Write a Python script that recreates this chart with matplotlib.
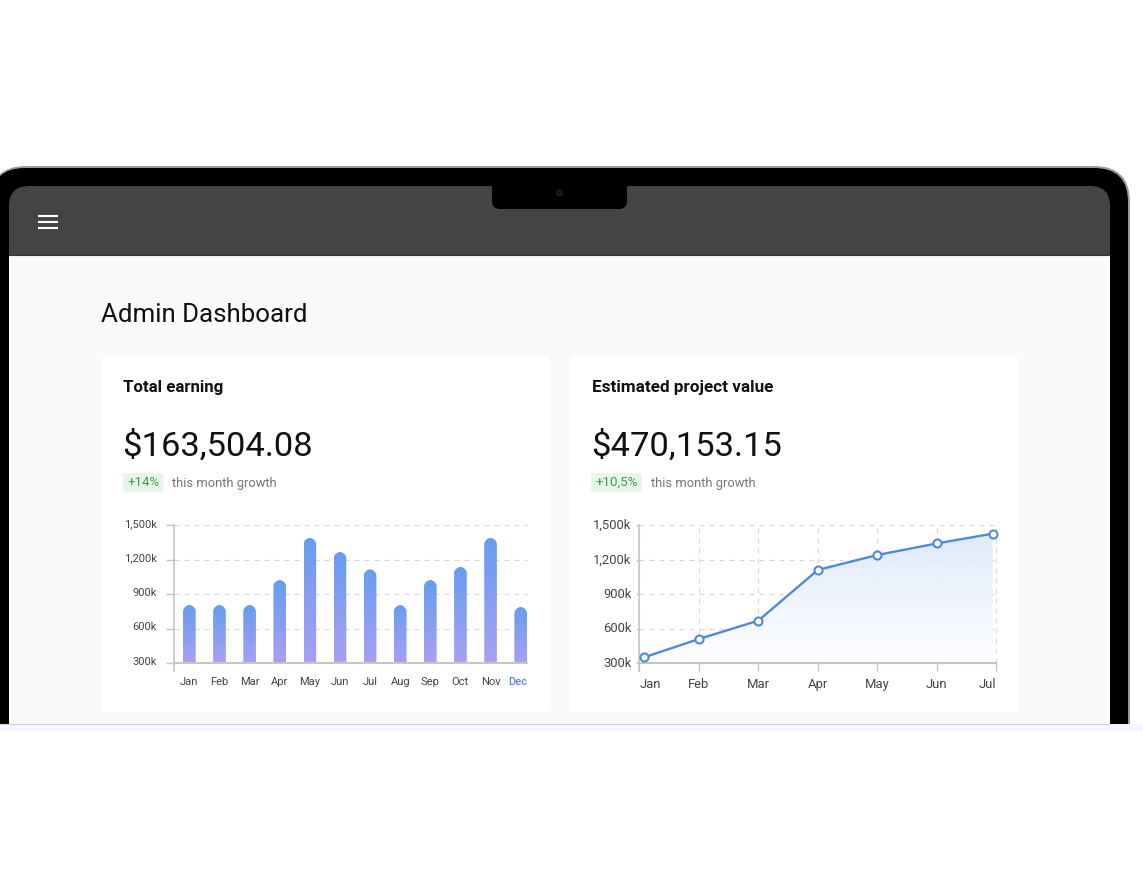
import matplotlib
matplotlib.use('Agg')
import matplotlib.pyplot as plt
import numpy as np
from matplotlib.patches import FancyBboxPatch, Circle, Rectangle
from matplotlib.path import Path
from matplotlib.colors import LinearSegmentedColormap
from matplotlib.transforms import ScaledTranslation

plt.rcParams['font.family'] = ['Roboto', 'DejaVu Sans']

W, H = 1143, 893

# earnings bars
bar_months = ['Jan', 'Feb', 'Mar', 'Apr', 'May', 'Jun', 'Jul', 'Aug', 'Sep', 'Oct', 'Nov', 'Dec']
bar_values = [805, 805, 805, 1023, 1390, 1267, 1116, 805, 1023, 1137, 1390, 788]

# project value line
line_months = ['Jan', 'Feb', 'Mar', 'Apr', 'May', 'Jun', 'Jul']
line_pos = [0.08, 1, 2, 3, 4, 5.01, 5.94]
line_values = [349, 509, 669, 1111, 1241, 1343, 1427]

y_ticks = [300, 600, 900, 1200, 1500]
y_labels = ['300k', '600k', '900k', '1,200k', '1,500k']

GRID = '#d8d8d8'
SPINE = '#c6c6c6'
TICK_TEXT = '#444444'
BLUE = '#5088e0'


def box(ax, x0, y0, x1, y1, r, color, z=1, **kw):
    p = FancyBboxPatch((x0 + r, y0 + r), x1 - x0 - 2 * r, y1 - y0 - 2 * r,
                       boxstyle='round,pad=%f,rounding_size=%f' % (r, r),
                       fc=color, ec=kw.pop('ec', 'none'), zorder=z, **kw)
    ax.add_patch(p)


def pixel_axes(x0, y0, x1, y1):
    ax = fig.add_axes([x0 / W, 1 - y1 / H, (x1 - x0) / W, (y1 - y0) / H])
    ax.patch.set_alpha(0)
    return ax


def style_axis(ax, label_size):
    ax.set_ylim(300, 1500)
    ax.set_yticks(y_ticks)
    ax.set_yticklabels(y_labels, fontsize=label_size, color=TICK_TEXT)
    ax.spines['top'].set_visible(False)
    ax.spines['right'].set_visible(False)
    ax.spines['left'].set_color(SPINE)
    ax.spines['left'].set_linewidth(1.2)
    ax.spines['bottom'].set_color(SPINE)
    ax.spines['bottom'].set_linewidth(1.5)
    ax.grid(axis='y', color=GRID, lw=0.8, ls=(0, (4.5, 4.5)), zorder=0)
    ax.set_axisbelow(True)
    for g in ax.get_ygridlines():
        g.set_clip_on(False)
    # the left axis line runs on a little below the baseline
    ax.plot([0, 0], [0, -0.058], color=SPINE, lw=1.2, transform=ax.transAxes, clip_on=False)


def lift_y_labels(ax, px):
    # has to come after tick_params, which resets the label transforms
    lift = ScaledTranslation(0, px / 100, fig.dpi_scale_trans)
    for t in ax.get_yticklabels():
        t.set_transform(t.get_transform() + lift)


fig = plt.figure(figsize=(W / 100, H / 100), dpi=100, facecolor='white')

# laptop frame and page, drawn in pixel coordinates
bg = fig.add_axes([0, 0, 1, 1])
bg.set_xlim(0, W)
bg.set_ylim(H, 0)
bg.axis('off')

box(bg, -10, 166, 1130, 800, 36, '#9a9a9a', z=1)
box(bg, -9, 168, 1128, 800, 34, '#000000', z=2)
bg.add_patch(Rectangle((-10, 724), W + 20, 100, fc='white', ec='none', zorder=3))
bg.add_patch(Rectangle((0, 724), W, 7, fc='#f5f8fe', ec='none', zorder=3))
box(bg, 9, 186, 1110, 300, 20, '#444444', z=4)
bg.add_patch(Rectangle((9, 255.5), 1101, 468.5, fc='#fafafa', ec='none', zorder=5))
bg.plot([9, 1110], [255, 255], color='#333333', lw=0.8, zorder=6)
bg.plot([0, 1110], [723.5, 723.5], color='#cfcfcf', lw=0.8, zorder=6)

# notch and camera
box(bg, 492, 170, 627, 209, 8, '#000000', z=6)
bg.add_patch(Circle((559.5, 193), 3.5, fc='#1c1c1c', ec='none', zorder=7))
bg.add_patch(Circle((559.5, 193), 1.5, fc='#0a0a0a', ec='none', zorder=8))

# menu icon
for y in [215.5, 221.5, 228]:
    bg.plot([38, 57.5], [y, y], color='white', lw=1.5, solid_capstyle='butt', zorder=7)

bg.text(101, 315, 'Admin Dashboard', fontsize=18.6, color='#111111', va='center', zorder=7)

# cards
box(bg, 101, 356, 549, 712, 4, 'white', z=6)
box(bg, 570, 356, 1019, 712, 4, 'white', z=6)

bg.text(123, 387.5, 'Total earning', fontsize=12.2, fontweight='bold', color='#111111', va='center', zorder=7)
bg.text(591.5, 387.5, 'Estimated project value', fontsize=12.3, fontweight='bold', color='#111111', va='center', zorder=7)
bg.text(122, 446, '$163,504.08', fontsize=24.8, color='#111111', va='center', zorder=7)
bg.text(591.5, 446, '$470,153.15', fontsize=24.8, color='#111111', va='center', zorder=7)

box(bg, 123, 473, 163.5, 492, 3, '#e8f5e9', z=7)
box(bg, 591, 473, 642, 492, 3, '#e8f5e9', z=7)
bg.text(143.2, 482.5, '+14%', fontsize=9.6, color='#3f9f46', ha='center', va='center', zorder=8)
bg.text(616.5, 482.5, '+10,5%', fontsize=9.6, color='#3f9f46', ha='center', va='center', zorder=8)
bg.text(172, 484, 'this month growth', fontsize=9.3, color='#757575', va='center', zorder=8)
bg.text(651, 484, 'this month growth', fontsize=9.3, color='#757575', va='center', zorder=8)

# bar chart
ax1 = pixel_axes(174, 525.3, 527, 663)
style_axis(ax1, 8)
ax1.tick_params(axis='y', length=5.8, width=1, color=SPINE, pad=6.5)
ax1.tick_params(axis='x', length=0, pad=10)
lift_y_labels(ax1, 2.3)
ax1.set_xlim(-0.51, 11.21)
ax1.set_xticks(range(len(bar_months)))
ax1.set_xticklabels(bar_months, fontsize=8, color=TICK_TEXT)

bar_cmap = LinearSegmentedColormap.from_list('bar', ['#679df0', '#a9a0f2'])
grad = np.linspace(0, 1, 128).reshape(-1, 1)
bw = 0.42
rx = bw / 2
ry = 6.3 * 1200 / 137.7
k = 0.45
for i, v in enumerate(bar_values):
    verts = [(i - rx, 300), (i - rx, v - ry),
             (i - rx, v - ry * k), (i - rx * k, v), (i, v),
             (i + rx * k, v), (i + rx, v - ry * k), (i + rx, v - ry),
             (i + rx, 300), (i - rx, 300)]
    codes = [Path.MOVETO, Path.LINETO, Path.CURVE4, Path.CURVE4, Path.CURVE4,
             Path.CURVE4, Path.CURVE4, Path.CURVE4, Path.LINETO, Path.CLOSEPOLY]
    im = ax1.imshow(grad, extent=(i - rx, i + rx, 300, v), origin='upper', cmap=bar_cmap,
                    aspect='auto', zorder=2)
    im.set_clip_path(Path(verts, codes), transform=ax1.transData)
ax1.set_xlim(-0.51, 11.21)
ax1.set_ylim(300, 1500)

labels1 = ax1.get_xticklabels()
labels1[-1].set_color(BLUE)
labels1[-1].set_fontweight('medium')
labels1[-1].set_transform(labels1[-1].get_transform() + ScaledTranslation(-0.03, 0, fig.dpi_scale_trans))

# line chart
ax2 = pixel_axes(639.3, 525.3, 996.3, 663)
style_axis(ax2, 9.4)
ax2.tick_params(axis='y', length=2.5, width=1, color=SPINE, pad=3)
ax2.tick_params(axis='x', length=5.8, width=1, color=SPINE, pad=5.2)
lift_y_labels(ax2, 1.3)
ax2.set_xlim(0, 6)
ax2.set_xticks(range(len(line_months)))
ax2.set_xticklabels(line_months, fontsize=9.4, color=TICK_TEXT)
ax2.grid(axis='x', color=GRID, lw=0.8, ls=(0, (4.5, 4.5)), zorder=0)
for g in ax2.get_xgridlines():
    g.set_clip_on(False)
labels2 = ax2.get_xticklabels()
labels2[0].set_ha('left')
labels2[-1].set_ha('right')

fill_cmap = LinearSegmentedColormap.from_list('fill', ['#dbe7fb', '#edf4fe', '#ffffff'])
fill_poly = list(zip(line_pos, line_values)) + [(line_pos[-1], 300), (line_pos[0], 300), (line_pos[0], line_values[0])]
im = ax2.imshow(grad, extent=(line_pos[0], line_pos[-1], 300, max(line_values)), origin='upper',
                cmap=fill_cmap, aspect='auto', zorder=1, alpha=0.85)
im.set_clip_path(Path(fill_poly), transform=ax2.transData)
ax2.plot(line_pos, line_values, color=BLUE, lw=1.7, marker='o', ms=5.8, mfc='white',
         mec=BLUE, mew=1.5, zorder=3, clip_on=False)
ax2.set_xlim(0, 6)
ax2.set_ylim(300, 1500)

plt.savefig('out.png', dpi=100)
